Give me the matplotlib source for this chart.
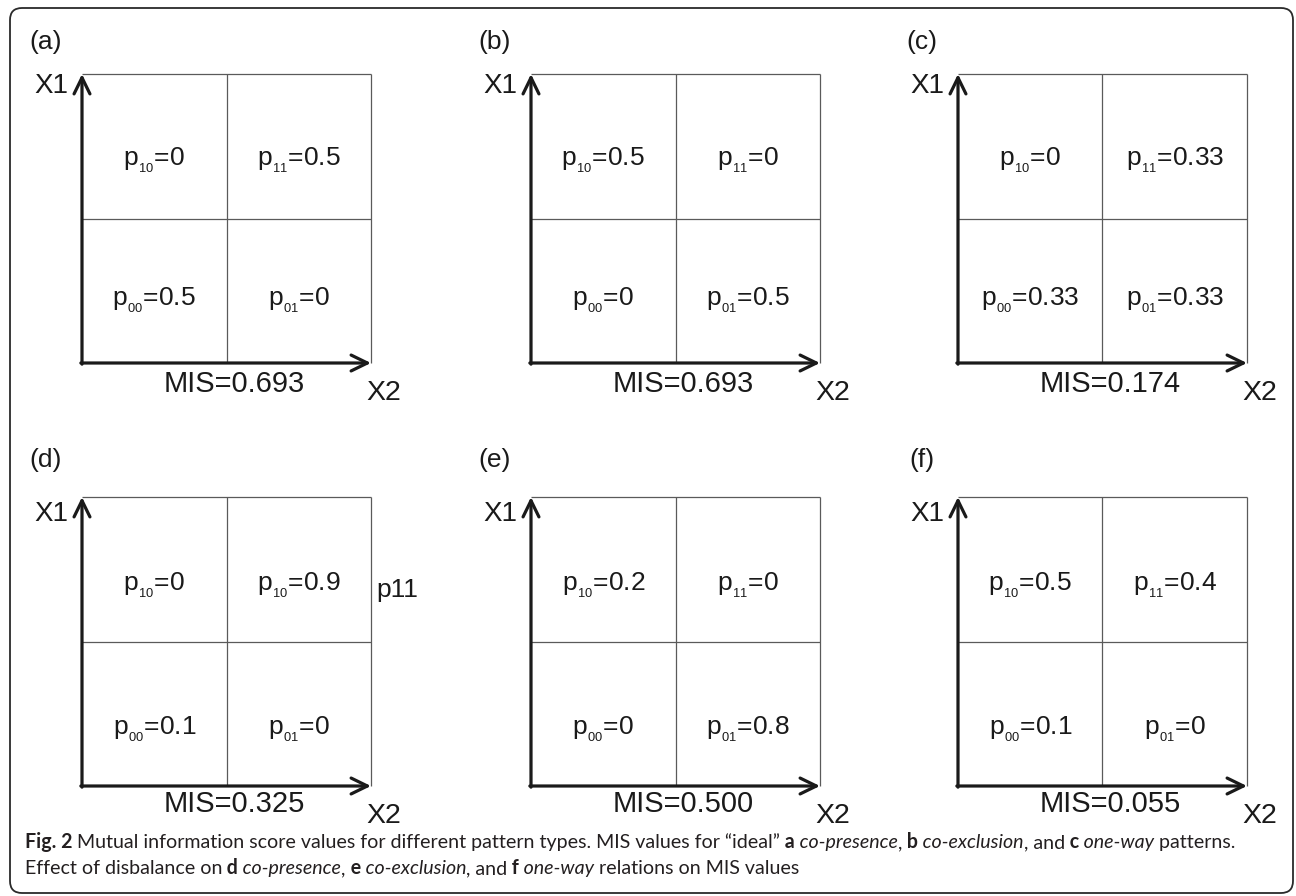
import matplotlib
matplotlib.use('Agg')
import matplotlib.pyplot as plt
from matplotlib.patches import FancyBboxPatch

# ---------------- data ----------------
panel_labels = ['(a)', '(b)', '(c)', '(d)', '(e)', '(f)']
p00 = [0.5, 0, 0.33, 0.1, 0, 0.1]
p01 = [0, 0.5, 0.33, 0, 0.8, 0]
p10 = [0, 0.5, 0, 0, 0.2, 0.5]
p11 = [0.5, 0, 0.33, 0.9, 0, 0.4]
# subscript printed in the upper-right cell (panel d shows "p10" there in the original)
p11_sub = ['11', '11', '11', '10', '11', '11']
mis = [0.693, 0.693, 0.174, 0.325, 0.500, 0.055]
axis_x_label = 'X2'
axis_y_label = 'X1'

caption_line1 = [('Fig. 2', 'bold', 'normal'),
                 (' Mutual information score values for different pattern types. MIS values for \u201cideal\u201d', 'normal', 'normal'),
                 (' a', 'bold', 'normal'), (' co-presence', 'normal', 'italic'), (',', 'normal', 'normal'),
                 (' b', 'bold', 'normal'), (' co-exclusion', 'normal', 'italic'), (', and', 'normal', 'normal'),
                 (' c', 'bold', 'normal'), (' one-way', 'normal', 'italic'), (' patterns.', 'normal', 'normal')]
caption_line2 = [('Effect of disbalance on', 'normal', 'normal'),
                 (' d', 'bold', 'normal'), (' co-presence', 'normal', 'italic'), (',', 'normal', 'normal'),
                 (' e', 'bold', 'normal'), (' co-exclusion', 'normal', 'italic'), (', and', 'normal', 'normal'),
                 (' f', 'bold', 'normal'), (' one-way', 'normal', 'italic'), (' relations on MIS values', 'normal', 'normal')]

# ---------------- style ----------------
plt.rcParams['font.family'] = ['Liberation Sans', 'DejaVu Sans']
plt.rcParams['mathtext.fontset'] = 'custom'
plt.rcParams['mathtext.rm'] = 'Liberation Sans'
plt.rcParams['mathtext.it'] = 'Liberation Sans:italic'
plt.rcParams['mathtext.bf'] = 'Liberation Sans:bold'

W, H, DPI = 1296, 896, 100
fig = plt.figure(figsize=(W / DPI, H / DPI), dpi=DPI)
fig.patch.set_facecolor('white')

bg = fig.add_axes([0, 0, 1, 1])
bg.set_xlim(0, W)
bg.set_ylim(H, 0)
bg.axis('off')

# rounded frame
frame = FancyBboxPatch((10, 8), 1283, 885, boxstyle='round,pad=0,rounding_size=12',
                       transform=bg.transData, fill=False, ec='#2a2a2a', lw=1.3)
bg.add_patch(frame)

TXT = '#1a1a1a'
GRID = '#5a5a5a'
col_left = [82, 531, 958]
row_top = [74, 497]
S = 289


def fx(px):
    return px / W


def fy(py):
    return 1 - py / H


def fmt(v):
    return f'{v:g}'


def cell(sub, v):
    return r'p$_{_{%s}}$=' % sub + fmt(v)


for i in range(6):
    r, c = divmod(i, 3)
    L, T = col_left[c], row_top[r]
    R, B = L + S, T + S
    ax = fig.add_axes([fx(L), fy(B), S / W, S / H])
    ax.set_xlim(0, 2)
    ax.set_ylim(0, 2)
    ax.axis('off')

    # thin cell grid
    for xs, ys in [([0, 2], [2, 2]), ([2, 2], [0, 2]), ([1, 1], [0, 2]), ([0, 2], [1, 1])]:
        ax.plot(xs, ys, color=GRID, lw=0.9, clip_on=False, solid_capstyle='butt')

    # thick axes arrows
    arrow = dict(arrowstyle='->,head_length=0.45,head_width=0.22', lw=2.3, color=TXT,
                 shrinkA=0, shrinkB=0, mutation_scale=26)
    ax.annotate('', xy=(2.0, 0), xytext=(-0.008, 0), xycoords='data', arrowprops=arrow, annotation_clip=False)
    ax.annotate('', xy=(0, 2.0), xytext=(0, -0.008), xycoords='data', arrowprops=arrow, annotation_clip=False)

    # cell values
    dy_top = -0.095 if r == 0 else -0.11
    dy_bot = -0.065 if r == 0 else -0.11
    fs = 19
    ax.text(0.5, 1.5 + dy_top, cell('10', p10[i]), ha='center', va='center', fontsize=fs, color=TXT)
    ax.text(1.5, 1.5 + dy_top, cell(p11_sub[i], p11[i]), ha='center', va='center', fontsize=fs, color=TXT)
    ax.text(0.5, 0.5 + dy_bot, cell('00', p00[i]), ha='center', va='center', fontsize=fs, color=TXT)
    ax.text(1.5, 0.5 + dy_bot, cell('01', p01[i]), ha='center', va='center', fontsize=fs, color=TXT)

    # labels around the panel
    lab_dy = 32 if r == 0 else 37
    bg.text(L - 36, T - lab_dy, panel_labels[i], ha='center', va='center', fontsize=19, color=TXT)
    x1_dy = 12 if r == 0 else 17
    bg.text(L - 14, T + x1_dy, axis_y_label, ha='right', va='center', fontsize=20, color=TXT)
    bg.text(R - 5, B + 30, axis_x_label, ha='left', va='center', fontsize=20.5, color=TXT)
    mis_dy = 21 if r == 0 else 18
    bg.text(L + S / 2 + 8, B + mis_dy, f'MIS={mis[i]:.3f}', ha='center', va='center', fontsize=21, color=TXT)
    if i == 3:
        bg.text(R + 5, T + 93, 'p11', ha='left', va='center', fontsize=19, color=TXT)

# caption (mixed bold / italic runs), laid out on a common baseline
CAP_FONT = ['Lato', 'DejaVu Sans']
CAP_SIZE = 14.1
CAP_COL = '#231f20'
renderer = fig.canvas.get_renderer()


def rich_line(x_px, y_px, pieces):
    x = x_px
    for s, w, st in pieces:
        t = bg.text(x, y_px, s, ha='left', va='baseline', fontsize=CAP_SIZE, fontweight=w,
                    fontstyle=st, family=CAP_FONT, color=CAP_COL)
        x += t.get_window_extent(renderer).width


rich_line(25, 848, caption_line1)
rich_line(25, 874, caption_line2)

fig.savefig('out.png', dpi=DPI, facecolor='white')
